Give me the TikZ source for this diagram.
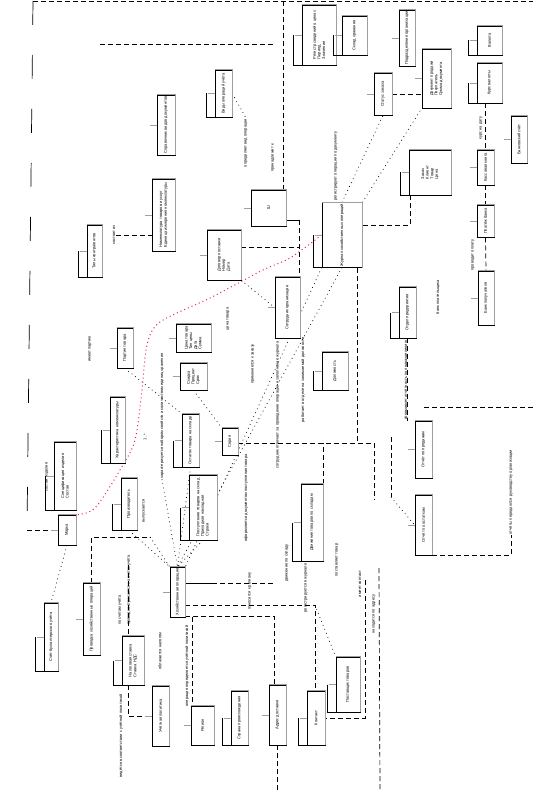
\documentclass[tikz,border=0pt]{standalone}
\usepackage{fontspec}
\newfontfamily\diagfont{Liberation Sans}
\usepackage{tikz}
\usetikzlibrary{backgrounds}
\definecolor{hintpink}{RGB}{232,24,128}
\newcommand{\diagtext}{\diagfont\fontsize{4}{4.6}\selectfont}
\tikzset{
  cls/.style={draw, line width=0.7pt, fill=white, rotate=90, inner sep=1pt, align=left, font=\diagtext},
  lbl/.style={rotate=90, inner sep=0.5pt, font=\diagtext},
  edgeshade/.style={draw=gray!75, line width=1.3pt},
  tabline/.style={draw=gray!75, line width=0.8pt},
  dep/.style={dash pattern=on 5pt off 3pt, line width=0.7pt},
  rel/.style={dash pattern=on 0.8pt off 3.5pt, line width=0.7pt},
  hint/.style={dash pattern=on 1pt off 3pt, line width=1pt, hintpink}
}

\begin{document}
\begin{tikzpicture}[x=1pt, y=-1pt]
\useasboundingbox (0,0) rectangle (533,810);

% classes, upper left
\node[cls, minimum width=60, minimum height=18] (b1) at (166,125) {Справочник видов документов};
\node[cls, minimum width=47, minimum height=17] (b2) at (223.5,93.5) {Виды операций учёта};
\node[cls, minimum width=72, minimum height=23] (b3) at (163.5,215) {Номенклатура товаров и услуг\\Единица измерения номенклатуры};
\node[cls, minimum width=52, minimum height=15] (b4) at (94.5,251) {Типы контрагентов};
\node[cls, minimum width=36, minimum height=35] (b5) at (268.5,208) {Ш};
\node[cls, minimum width=50, minimum height=34] (b6) at (224,255) {Договор поставки\\Номер\\Дата};

% classes, upper right
\node[cls, minimum width=60, minimum height=34] (b7) at (319,35) {Регистр сведений о ценах\\Период\\Значение};
\node[cls, minimum width=39, minimum height=25] (b8) at (354.5,35.5) {Склад хранения};
\node[cls, minimum width=56, minimum height=16] (b9) at (407,38) {Подразделение организации};
\node[cls, minimum width=59, minimum height=29] (b10) at (436.5,78.5) {Документ продажи\\Покупатель\\Сумма документа};
\node[cls, minimum width=29, minimum height=25] (b11) at (489.5,40.5) {Валюта};
\node[cls, minimum width=40, minimum height=25] (b12) at (489.5,83) {Курс валюты};
\node[cls, minimum width=47, minimum height=16] (b13) at (519,139.5) {Банковский счёт};
\node[cls, minimum width=35, minimum height=17] (b14) at (485.5,167.5) {Кассовая книга};
\node[cls, minimum width=32, minimum height=17] (b15) at (485.5,221) {Платёж банка};
\node[cls, minimum width=45, minimum height=42] (b16) at (430,172.5) {Заказ\\Клиент\\Товар\\Цена};
\node[cls, minimum width=42, minimum height=18] (b17) at (383,94) {Статус заказа};
\node[cls, minimum width=60, minimum height=40] (b18) at (342,235) {Журнал хозяйственных операций};
\node[cls, minimum width=54, minimum height=16] (b45) at (486,298) {Банк получателя};

% classes, middle right
\node[cls, minimum width=61, minimum height=25] (b19) at (287.5,307.5) {Сотрудник организации};
\node[cls, minimum width=38, minimum height=26] (b20) at (335,371) {Должность};
\node[cls, minimum width=51, minimum height=17] (b21) at (407.5,312.5) {Отдел предприятия};
\node[cls, minimum width=57, minimum height=17] (b22) at (423.5,449.5) {Отчёт по продажам};
\node[cls, minimum width=60, minimum height=17] (b23) at (423.5,525) {Отчёт по остаткам};
\node[cls, minimum width=77, minimum height=22] (b24) at (312,522.5) {Движение товаров по складам};

% classes, bottom
\node[cls, minimum width=55, minimum height=24] (b25) at (348,684.5) {Поставщик товаров};
\node[cls, minimum width=60, minimum height=17] (b26) at (277.5,715) {Адрес доставки};
\node[cls, minimum width=54, minimum height=18] (b27) at (316,718) {Контакт};
\node[cls, minimum width=72, minimum height=17] (b28) at (91.5,619) {Проводка хозяйственных операций};
\node[cls, minimum width=68, minimum height=14] (b29) at (51,637) {Счёт бухгалтерского учёта};
\node[cls, minimum width=50, minimum height=15] (b30) at (177.5,592) {Хозяйственная операция};
\node[cls, minimum width=49, minimum height=22] (b31) at (133,660.5) {Налоговая ставка\\Ставка НДС};
\node[cls, minimum width=60, minimum height=17] (b32) at (160.5,716) {Учётная политика};
\node[cls, minimum width=39, minimum height=23] (b33) at (202.5,725.5) {Регион};
\node[cls, minimum width=54, minimum height=17] (b34) at (239.5,718) {Страна происхождения};

% classes, middle left
\node[cls, minimum width=40, minimum height=16] (b35) at (125,348) {Партия товара};
\node[cls, minimum width=28, minimum height=35] (b36) at (193.5,338) {Цена товара\\Тип цены\\Дата\\Сумма};
\node[cls, minimum width=27, minimum height=27] (b37) at (193.5,376.5) {Скидка\\Процент\\Срок};
\node[cls, minimum width=66, minimum height=15] (b38) at (117.5,430) {Характеристика номенклатуры};
\node[cls, minimum width=53, minimum height=17] (b39) at (190.5,440.5) {Остаток товара на складе};
\node[cls, minimum width=27, minimum height=16] (b40) at (230,441.5) {Серия};
\node[cls, minimum width=68, minimum height=22] (b41) at (65,476) {Спецификация изделия\\Состав};
\node[cls, minimum width=52, minimum height=16] (b42) at (129,504) {Производитель};
\node[cls, minimum width=30, minimum height=18] (b43) at (67,530) {Марка};
\node[cls, minimum width=65, minimum height=28] (b44) at (203,507.5) {Поступление товаров на склад\\Приходная накладная\\Строки};

% labels
\node[lbl] (l1) at (246,143) {определяет вид операции};
\node[lbl] (l2) at (114,235) {состоит из};
\node[lbl] (l3) at (273,158) {принадлежит к};
\node[lbl] (l4) at (336,166) {регистрирует операции по документу};
\node[lbl] (l5) at (90,349) {имеет партию};
\node[lbl] (l6) at (162,416) {характеризуется набором свойств и количеством единиц хранения};
\node[lbl] (l7) at (228,319) {цена товара};
\node[lbl] (l8) at (253,364) {применяется к заказу};
\node[lbl] (l9) at (47,477) {состав изделия};
\node[lbl] (l10) at (145,437) {1..*};
\node[lbl] (l10b) at (144,511) {выпускается};
\node[lbl] (l11) at (246,498) {оформляется документом поступления товара};
\node[lbl] (l12) at (278,405) {сотрудник отвечает за проведение операции и заполнение журнала};
\node[lbl] (l13) at (303,380) {работает в отделе на занимаемой должности};
\node[lbl] (l14) at (406,380) {формирует отчётность по подразделению};
\node[lbl] (l15) at (511,492) {отчёты передаются руководству организации};
\node[lbl] (l16) at (473,255) {проводит оплату};
\node[lbl] (l17) at (481,128) {курс на дату};
\node[lbl] (l19) at (287,563) {движение по складу};
\node[lbl] (l20) at (306,588) {регистрируется в журнале};
\node[lbl] (l21) at (337,560) {поставляет товар};
\node[lbl] (l22) at (360,584) {имеет контакт};
\node[lbl] (l23) at (374,614) {находится по адресу};
\node[lbl] (l24) at (129,590) {проводка отражается на счетах учёта};
\node[lbl] (l24b) at (120,610) {по счетам учёта};
\node[lbl] (l25) at (160,651) {облагается налогом};
\node[lbl] (l26) at (187,666) {операция определяется учётной политикой};
\node[lbl] (l27) at (121,736) {ведётся в соответствии с учётной политикой};
\node[lbl] (l28) at (250,591) {относится к региону};
\node[lbl] (l29) at (438,297) {банк плательщика};

% box edges
\foreach \i in {1,...,45} {
  \draw[edgeshade] (b\i.north east) -- (b\i.south east) -- (b\i.south west);
  \draw[tabline] (b\i.north) -- ++(-7,0);
}
\foreach \i in {2,4,7,8,11,12,16,18,20,21,24,25,27,29,31,34,38,39,41,42,44}
  \draw[line width=0.7pt] (b\i.north) ++(-8,0) |- (b\i.north west);

\begin{scope}[on background layer]
% frames
\coordinate (f0) at (33,1);
\coordinate (f1) at (533,1);
\coordinate (f2) at (283,1);
\coordinate (f3) at (100,44);
\coordinate (f4) at (275,44);
\coordinate (f5) at (27,530);
\draw[dep] (f0) -- (f1);
\draw[dep] (f2) -- (f2 |- b5.east);
\draw[dep] (f3) -- (f4);
\draw[dep, dash pattern=on 24pt off 30pt] (f0) -- (f5);
\draw[dep] (f5) -- (b43.north);

% upper right
\draw[dep] (b17.south) -- (b17.south -| b10.north);
\draw[dep] (b12.west -| b14.east) -- (b14.east);
\draw[dep] (b14.west) -- (b15.east);
\draw[dep] (b15.west) -- (b45.east);
\coordinate (j3) at (410,225);
\draw[dep] (b16.west -| j3) -- (j3) -- (j3 -| b18.south);
\draw[rel] (b18.east) -- (b17.west);
\draw[rel] (b18.south east) -- (b10.north west);
\draw[rel] (b2.south) -- (l1.east);

% upper middle
\coordinate (j1) at (299,220);
\coordinate (j2) at (299,247);
\draw[line width=0.7pt] (b5.south |- j1) -- (j1);
\draw[dep] (j1) -- (j1 |- b19.east);
\draw[dep] (j2 -| b6.south) -- (j2);
\draw[dep] (l2.south) -- (l2.south -| b3.north);
\draw[rel] (b6.south west) -- (b19.north);
\draw[hint] plot[smooth] coordinates {(b18.north) (290,258) (263,270) (210,298) (160,322) (147,345) (142,390) (135,440) (120,470) (95,508) (b43.south east)};

% middle right
\coordinate (j4) at (357,443);
\coordinate (j5) at (374,443);
\coordinate (j6) at (391,437);
\coordinate (j7) at (391,497);
\draw[dep] (j4 |- b18.west) -- (j4);
\draw[dep] (b40.south |- j4) -- (j5) -- ++(0,57);
\draw[dep] (b24.south east) -- (b24.south east |- j4);
\draw[dep] (j6) -- (j7);
\draw[rel] (j7) -- (b23.north);
\draw[dep] (b21.west) -- (b21.west |- b22.east);
\coordinate (e1) at (424,407);
\coordinate (e2) at (533,407);
\draw[dep] (e1) -- (e2);
\draw[dep] (b23.south west) -| (l15.west);
\draw[rel] (b18.north west) -- (b30.south east);
\draw[rel] (b18.west) -- (b30.east);

% middle left
\draw[rel] (b37.west) -- (b40.north east);
\draw[rel] (b35.west) -- (b39.north east);
\draw[rel] (b39.west) -- (b30.east);
\draw[rel] (b42.west) -- (b30.north east);
\draw[rel] (b44.west) -- (b30.east);
\draw[rel] (l6.west) -- (b30.east);
\coordinate (p150) at (150,537);
\draw[dep] (b28.east) |- (p150);
\draw[rel] (p150) -- (b30.north east);
\draw[rel] (b43.west) -- (b29.east);

% hub and bottom
\coordinate (p583) at (212,583);
\coordinate (p583e) at (275,583);
\coordinate (p605) at (315,605);
\coordinate (p616) at (274,616);
\coordinate (p192) at (192,617);
\coordinate (p128) at (128,565);
\coordinate (p365) at (365,580);
\coordinate (q1) at (379,568);
\coordinate (q2) at (380,790);
\draw[line width=0.7pt] (b30.south |- p583) -- (p583);
\draw[dep] (p583) -- (p583e);
\draw[dep] (b30.south |- p605) -- (p605) -- (p605 |- b27.east);
\draw[dep] (b30.south |- p616) -- (p616) -- (p616 |- b26.east);
\draw[rel] (p605) -- (b25.north east);
\draw[dep] (p192) -- (p192 |- b33.east);
\draw[dep] (p128) |- (b32.north);
\draw[dep] (p365) |- (b27.south);
\draw[dep] (q1) -- (q2);
\draw[dep] (b26.west) -- ++(0,45);
\end{scope}
\end{tikzpicture}
\end{document}
